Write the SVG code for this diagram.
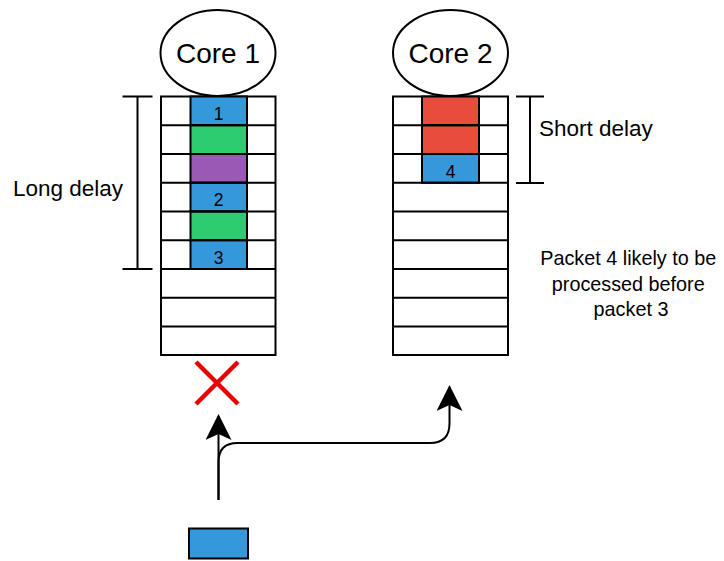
<svg xmlns="http://www.w3.org/2000/svg" width="724" height="561" viewBox="0 0 724 561">
  <style>
    .ln { stroke: #000; stroke-width: 2; fill: none; }
    .cell { stroke: #000; stroke-width: 2; }
    .txt { font-family: "Liberation Sans", Arial, sans-serif; fill: #000; }
    .num { font-family: "Liberation Sans", Arial, sans-serif; font-size: 17.5px; text-anchor: middle; fill: #000; }
    .blue { fill: #3498db; }
    .green { fill: #2ecc71; }
    .purple { fill: #9b59b6; }
    .red { fill: #e74c3c; }
    .white { fill: #fff; }
  </style>
  <defs>
    <marker id="arrow" viewBox="0 0 26 26" refX="24" refY="13" markerWidth="26" markerHeight="26" markerUnits="userSpaceOnUse" orient="auto">
      <path d="M26,13 L0,0 L6,13 L0,26 Z" fill="#000"/>
    </marker>
  </defs>

  <rect width="724" height="561" fill="#fff"/>

  <!-- Core 1 queue -->
  <g id="core1">
    <ellipse cx="218" cy="53" rx="57.5" ry="43" fill="#fff" stroke="#000" stroke-width="2"/>
    <text class="txt" x="218" y="63" font-size="28" text-anchor="middle">Core 1</text>
  </g>
  <g id="queue1">
    <rect class="cell white" x="161" y="96.5" width="114.5" height="258.5"/>
    <rect class="cell blue" x="190.5" y="96.5" width="56.5" height="28.75"/>
    <rect class="cell green" x="190.5" y="125.25" width="56.5" height="28.75"/>
    <rect class="cell purple" x="190.5" y="154" width="56.5" height="28.75"/>
    <rect class="cell blue" x="190.5" y="182.75" width="56.5" height="28.75"/>
    <rect class="cell green" x="190.5" y="211.5" width="56.5" height="28.75"/>
    <rect class="cell blue" x="190.5" y="240.25" width="56.5" height="28.75"/>
    <path class="ln" d="M161,125.25H275.5M161,154H275.5M161,182.75H275.5M161,211.5H275.5M161,240.25H275.5M161,269H275.5M161,297.75H275.5M161,326.5H275.5"/>
    <text class="num" x="218.5" y="119.5">1</text>
    <text class="num" x="218.5" y="205.5">2</text>
    <text class="num" x="218.5" y="263.5">3</text>
  </g>

  <!-- Core 2 queue -->
  <g id="core2">
    <ellipse cx="450.5" cy="53" rx="57.5" ry="43" fill="#fff" stroke="#000" stroke-width="2"/>
    <text class="txt" x="450.5" y="63" font-size="28" text-anchor="middle">Core 2</text>
  </g>
  <g id="queue2">
    <rect class="cell white" x="393" y="96.5" width="115" height="258.5"/>
    <rect class="cell red" x="422" y="96.5" width="57" height="28.75"/>
    <rect class="cell red" x="422" y="125.25" width="57" height="28.75"/>
    <rect class="cell blue" x="422" y="154" width="57" height="28.75"/>
    <path class="ln" d="M393,125.25H508M393,154H508M393,182.75H508M393,211.5H508M393,240.25H508M393,269H508M393,297.75H508M393,326.5H508"/>
    <text class="num" x="450.5" y="177.5">4</text>
  </g>

  <!-- delay brackets -->
  <g id="long-delay">
    <path class="ln" d="M122.5,96.5H152.5M137.5,96.5V269M122.5,269H152.5"/>
    <text class="txt" x="13" y="196" font-size="22.5">Long delay</text>
  </g>
  <g id="short-delay">
    <path class="ln" d="M516,96.5H544M530,96.5V183M516,183H544"/>
    <text class="txt" x="539" y="136" font-size="22.5">Short delay</text>
  </g>

  <g id="note">
    <text class="txt" font-size="19.8" text-anchor="middle">
      <tspan x="631" y="265">Packet 4 likely to be</tspan>
      <tspan x="631" y="290.5">processed before</tspan>
      <tspan x="631" y="316">packet 3</tspan>
    </text>
  </g>

  <!-- blocked path marker -->
  <g id="blocked">
    <path d="M196,362L238,404M238,362L196,404" stroke="#e60000" stroke-width="4.5" fill="none"/>
  </g>

  <!-- incoming packet -->
  <g id="packet">
    <rect class="blue" x="189" y="528.5" width="59" height="30" stroke="#000" stroke-width="2"/>
  </g>

  <g id="connectors">
    <path class="ln" d="M218.5,500V416" stroke-width="2.5" marker-end="url(#arrow)"/>
    <path class="ln" d="M218.5,500V462Q218.5,443 237.5,443H430Q449.5,443 449.5,423.5V387" stroke-width="2.5" marker-end="url(#arrow)"/>
  </g>
</svg>
